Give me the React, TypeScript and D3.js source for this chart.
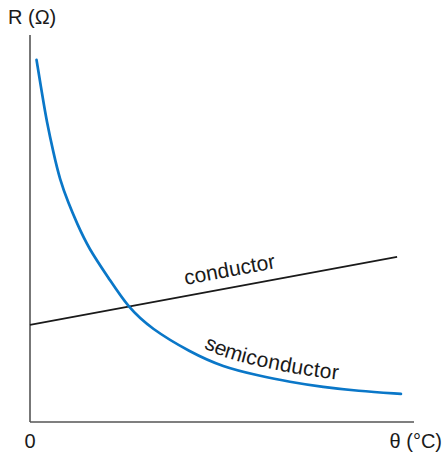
import React from "react";
import * as d3 from "d3";

const W = 443;
const H = 453;

// temperature θ (arbitrary units) and resistance R (arbitrary units)
const COND_THETA = [0, 95.6];
const COND_R = [25.3, 43.0];

const SEMI_THETA = [1.7, 3.4, 4.3, 6.1, 7.8, 10.0, 12.2, 15.2, 20.8, 25.5, 31.5, 41.7, 50.3, 59.1, 67.7, 76.3, 85.2, 96.6];
const SEMI_R = [94.3, 83.9, 78.6, 70.1, 63.0, 57.0, 51.8, 45.3, 37.0, 29.9, 24.3, 18.2, 14.3, 12.2, 10.4, 9.1, 8.1, 7.3];

const AXIS_MAX_THETA = 100;
const AXIS_MAX_R = 100.8;

const COND_LABEL = "conductor";
const SEMI_LABEL = "semiconductor";
const COND_LABEL_THETA = 41.0;
const SEMI_LABEL_THETA = 44.0;

const FONT = "'Liberation Sans', Arial, Helvetica, sans-serif";

function offsetAlong(pts: [number, number][], xTarget: number): number {
  let len = 0;
  for (let i = 1; i < pts.length; i++) {
    const [x0, y0] = pts[i - 1];
    const [x1, y1] = pts[i];
    const seg = Math.hypot(x1 - x0, y1 - y0);
    if (xTarget <= x1) {
      const f = (xTarget - x0) / (x1 - x0);
      return len + seg * Math.max(0, f);
    }
    len += seg;
  }
  return len;
}

export default function App() {
  const x = d3.scaleLinear().domain([0, 100]).range([30, 414]);
  const y = d3.scaleLinear().domain([0, 100]).range([422, 38]);

  const condPts: [number, number][] = COND_THETA.map((t, i) => [x(t), y(COND_R[i])]);
  const semiPts: [number, number][] = SEMI_THETA.map((t, i) => [x(t), y(SEMI_R[i])]);

  const straight = d3.line<[number, number]>().x((d) => d[0]).y((d) => d[1]);
  const smooth = d3
    .line<[number, number]>()
    .x((d) => d[0])
    .y((d) => d[1])
    .curve(d3.curveBasis);

  const condD = straight(condPts) || "";
  const semiD = smooth(semiPts) || "";

  const condOffset = offsetAlong(condPts, x(COND_LABEL_THETA));
  const semiOffset = offsetAlong(semiPts, x(SEMI_LABEL_THETA));

  return (
    <svg
      width={W}
      height={H}
      style={{ position: "absolute", left: 0, top: 0, background: "#fff" }}
      fontFamily={FONT}
    >
      <defs>
        <path id="condPath" d={condD} />
        <path id="semiPath" d={semiD} />
      </defs>
      {/* axes */}
      <line x1={x(0)} y1={y(0)} x2={x(0)} y2={y(AXIS_MAX_R)} stroke="#555" strokeWidth={1.6} />
      <line x1={x(0)} y1={y(0)} x2={x(AXIS_MAX_THETA)} y2={y(0)} stroke="#555" strokeWidth={1.6} />

      {/* conductor */}
      <path d={condD} fill="none" stroke="#1a1a1a" strokeWidth={1.7} />
      {/* semiconductor */}
      <path d={semiD} fill="none" stroke="#0a77c8" strokeWidth={2.7} strokeLinecap="round" />

      <text fontSize={21} fill="#1a1a1a" dy={-11}>
        <textPath href="#condPath" startOffset={condOffset}>
          {COND_LABEL}
        </textPath>
      </text>
      <text fontSize={21} fill="#1a1a1a" dy={-9} letterSpacing={0.4}>
        <textPath href="#semiPath" startOffset={semiOffset}>
          {SEMI_LABEL}
        </textPath>
      </text>

      <text x={8} y={24} fontSize={20} fill="#1a1a1a">
        R (Ω)
      </text>
      <text x={x(0)} y={448} fontSize={20} fill="#1a1a1a" textAnchor="middle">
        0
      </text>
      <text x={442} y={448} fontSize={20} fill="#1a1a1a" textAnchor="end">
        θ (°C)
      </text>
    </svg>
  );
}
